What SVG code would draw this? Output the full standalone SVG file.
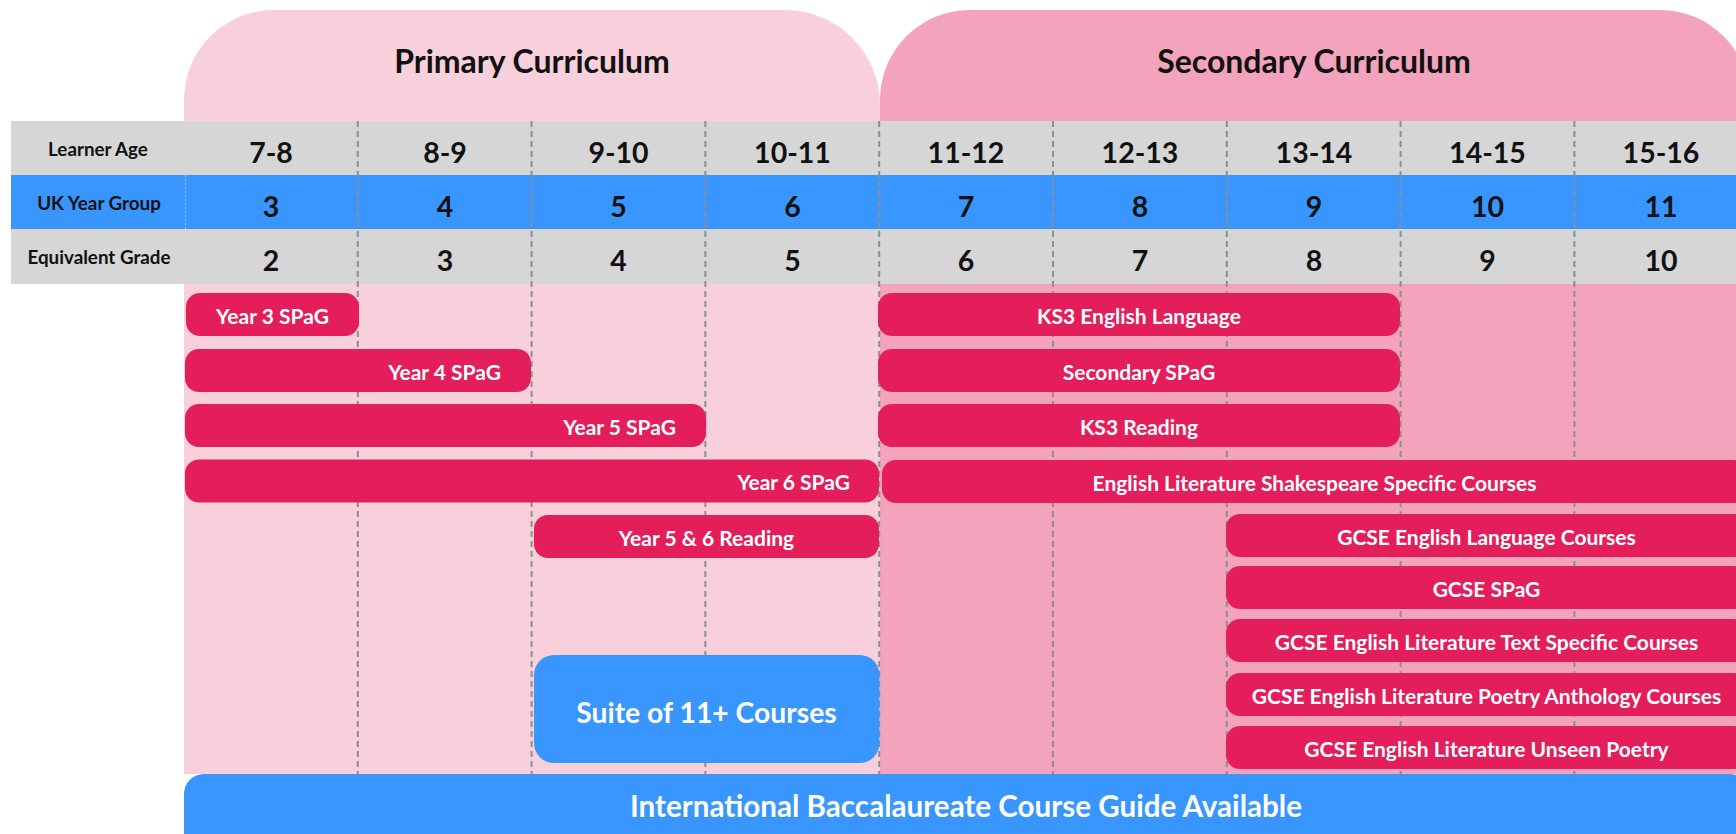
<svg xmlns="http://www.w3.org/2000/svg" width="1736" height="834" viewBox="0 0 1736 834">
<style>
.t{font-family:Lato,"Liberation Sans",sans-serif;font-weight:700}
.title{font-size:32px;fill:#111;text-anchor:middle}
.lbl{font-size:18.8px;fill:#111;text-anchor:middle}
.num{font-size:28.5px;fill:#111;text-anchor:middle}
.bt{font-size:21px;fill:#fff;text-anchor:middle}
.be{font-size:21px;fill:#fff;text-anchor:end}
.big{font-size:28.3px;fill:#fff;text-anchor:middle}
.bar{fill:#E31E5A}
.blue{fill:#3896FE}
.grid{stroke:#8E8E8E;stroke-width:2;stroke-dasharray:6 4;fill:none}
</style>
<g id="primary-region">
<path d="M184,774 V100 A90,90 0 0 1 274,10 H785 A95,95 0 0 1 880,105 V774 Z" fill="#F7D0DC"/>
<text class="t title" x="532" y="73">Primary Curriculum</text>
</g>
<g id="secondary-region">
<path d="M880,774 V100 A90,90 0 0 1 970,10 H1660 A90,90 0 0 1 1750,100 V774 Z" fill="#F3A3BC"/>
<text class="t title" x="1314" y="73">Secondary Curriculum</text>
</g>
<g id="header-table">
<rect x="11" y="121" width="1725" height="54" fill="#D6D6D6"/>
<rect x="11" y="175" width="1725" height="54" class="blue"/>
<rect x="11" y="229" width="1725" height="55" fill="#D6D6D6"/>
<line x1="185.5" y1="175" x2="185.5" y2="229" stroke="#A9CCF5" stroke-width="1" stroke-dasharray="2 2"/>
<text class="t lbl" x="98" y="155.5">Learner Age</text>
<text class="t lbl" x="99" y="209.5">UK Year Group</text>
<text class="t lbl" x="99" y="263.5">Equivalent Grade</text>
<g class="t num">
<text x="271" y="163">7-8</text><text x="445" y="163">8-9</text><text x="618.5" y="163">9-10</text><text x="792.5" y="163">10-11</text><text x="966" y="163">11-12</text><text x="1140" y="163">12-13</text><text x="1314" y="163">13-14</text><text x="1487.5" y="163">14-15</text><text x="1661" y="163">15-16</text>
<text x="271" y="217">3</text><text x="445" y="217">4</text><text x="618.5" y="217">5</text><text x="792.5" y="217">6</text><text x="966" y="217">7</text><text x="1140" y="217">8</text><text x="1314" y="217">9</text><text x="1487.5" y="217">10</text><text x="1661" y="217">11</text>
<text x="271" y="271">2</text><text x="445" y="271">3</text><text x="618.5" y="271">4</text><text x="792.5" y="271">5</text><text x="966" y="271">6</text><text x="1140" y="271">7</text><text x="1314" y="271">8</text><text x="1487.5" y="271">9</text><text x="1661" y="271">10</text>
</g>
</g>
<g id="grid">
<path class="grid" d="M357.8,121V774M531.6,121V774M705.4,121V774M879.2,121V774M1053,121V774M1226.8,121V774M1400.6,121V774M1574.4,121V774"/>
</g>
<g id="year3-spag"><rect class="bar" x="186" y="293" width="173" height="43" rx="14"/><text class="t bt" x="272.5" y="323.5">Year 3 SPaG</text></g>
<g id="year4-spag"><rect class="bar" x="185" y="349" width="346" height="43" rx="14"/><text class="t be" x="501" y="379.5">Year 4 SPaG</text></g>
<g id="year5-spag"><rect class="bar" x="185" y="404" width="521" height="43" rx="14"/><text class="t be" x="676" y="434.5">Year 5 SPaG</text></g>
<g id="year6-spag"><rect class="bar" x="185" y="459.5" width="694" height="43" rx="14"/><text class="t be" x="850" y="490">Year 6 SPaG</text></g>
<g id="year56-reading"><rect class="bar" x="534" y="515" width="345" height="43" rx="14"/><text class="t bt" x="706.5" y="545.5">Year 5 &amp; 6 Reading</text></g>
<g id="suite-11plus"><rect class="blue" x="534" y="655" width="345.5" height="108" rx="20"/><text class="t big" x="706.5" y="722.5">Suite of 11+ Courses</text></g>
<g id="ks3-english-language"><rect class="bar" x="878" y="293" width="522" height="43" rx="14"/><text class="t bt" x="1139" y="323.5">KS3 English Language</text></g>
<g id="secondary-spag"><rect class="bar" x="878" y="349" width="522" height="43" rx="14"/><text class="t bt" x="1139" y="379.5">Secondary SPaG</text></g>
<g id="ks3-reading"><rect class="bar" x="878" y="404" width="522" height="43" rx="14"/><text class="t bt" x="1139" y="434.5">KS3 Reading</text></g>
<g id="shakespeare"><rect class="bar" x="882" y="460" width="865" height="43" rx="14"/><text class="t bt" x="1314.5" y="490.5">English Literature Shakespeare Specific Courses</text></g>
<g id="gcse-english-language"><rect class="bar" x="1226" y="514" width="521" height="43" rx="14"/><text class="t bt" x="1486.5" y="544.5">GCSE English Language Courses</text></g>
<g id="gcse-spag"><rect class="bar" x="1226" y="566" width="521" height="43" rx="14"/><text class="t bt" x="1486.5" y="596.5">GCSE SPaG</text></g>
<g id="gcse-text-specific"><rect class="bar" x="1226" y="619" width="521" height="43" rx="14"/><text class="t bt" x="1486.5" y="649.5">GCSE English Literature Text Specific Courses</text></g>
<g id="gcse-poetry-anthology"><rect class="bar" x="1226" y="673" width="521" height="43" rx="14"/><text class="t bt" x="1486.5" y="703.5">GCSE English Literature Poetry Anthology Courses</text></g>
<g id="gcse-unseen-poetry"><rect class="bar" x="1226" y="726" width="521" height="43" rx="14"/><text class="t bt" x="1486.5" y="756.5">GCSE English Literature Unseen Poetry</text></g>
<g id="ib-guide"><rect class="blue" x="184" y="774" width="1566" height="80" rx="20"/><text class="t big" x="966" y="817" style="font-size:29.6px">International Baccalaureate Course Guide Available</text></g>
</svg>
